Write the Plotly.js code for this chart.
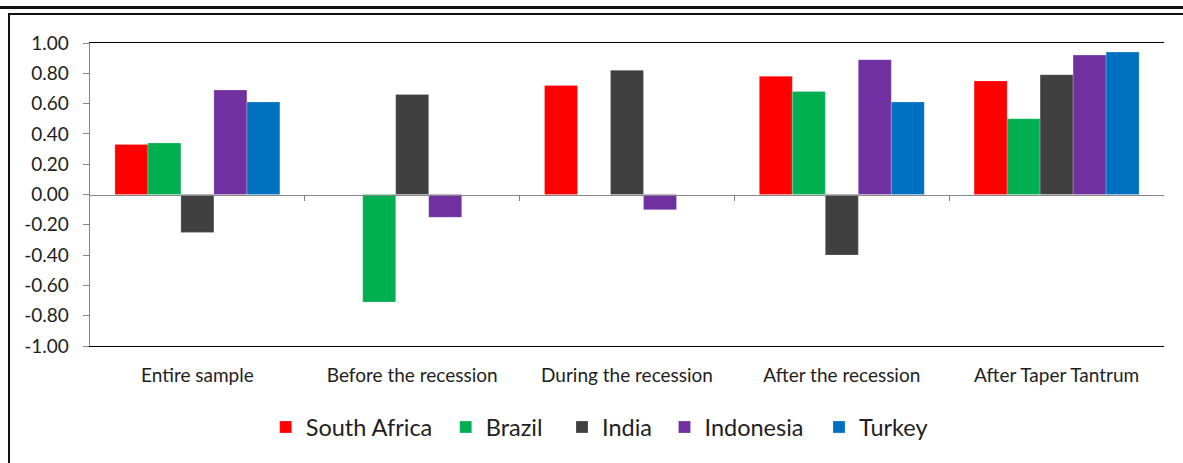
<!DOCTYPE html>
<html>
<head>
<meta charset="utf-8">
<script src="https://cdn.plot.ly/plotly-3.0.1.min.js"></script>
<style>
  html, body { margin: 0; padding: 0; background: #fff; }
  #wrap { position: relative; width: 1183px; height: 463px; overflow: hidden; }
  #chart { position: absolute; left: 0; top: 0; width: 1183px; height: 463px; }
  .rule { position: absolute; background: #111; pointer-events: none; }
</style>
</head>
<body>
<div id="wrap">
  <div id="chart"></div>
  <!-- page rules and frame around the figure -->
  <div class="rule" style="left:0; top:6px; width:1183px; height:3px;"></div>
  <div class="rule" style="left:8px; top:13px; width:1175px; height:2px;"></div>
  <div class="rule" style="left:8px; top:13px; width:2px; height:450px;"></div>
</div>
<script>
// Correlation by sub-period
const categories = ['Entire sample', 'Before the recession', 'During the recession', 'After the recession', 'After Taper Tantrum'];
const seriesNames = ['South Africa', 'Brazil', 'India', 'Indonesia', 'Turkey'];
const southAfrica = [0.33, null, 0.72, 0.78, 0.75];
const brazil      = [0.34, -0.71, null, 0.68, 0.50];
const india       = [-0.25, 0.66, 0.82, -0.40, 0.79];
const indonesia   = [0.69, -0.15, -0.10, 0.89, 0.92];
const turkey      = [0.61, null, null, 0.61, 0.94];
const yTickValues = [-1, -0.8, -0.6, -0.4, -0.2, 0, 0.2, 0.4, 0.6, 0.8, 1];
const yTickLabels = ['-1.00', '-0.80', '-0.60', '-0.40', '-0.20', '0.00', '0.20', '0.40', '0.60', '0.80', '1.00'];

const seriesValues = [southAfrica, brazil, india, indonesia, turkey];
const seriesColors = ['#FF0000', '#00B050', '#404040', '#7030A0', '#0070C0'];

const FONT = 'Lato, "Open Sans", sans-serif';
const GRAY = '#868686';
const TEXT = '#1e1e1e';

// each series gets its own legend box so entries can be spaced freely
const legendIds = ['legend', 'legend2', 'legend3', 'legend4', 'legend5'];
const legendTextX = [305.7, 485.7, 602, 704.5, 859];  // px positions of legend text starts

const traces = seriesValues.map((vals, i) => ({
  type: 'bar',
  name: seriesNames[i],
  x: categories,
  y: vals,
  legend: legendIds[i],
  marker: { color: seriesColors[i], line: { color: 'rgba(255,255,255,0.35)', width: 0.6 } },
  hoverinfo: 'x+y+name'
}));

// empty carrier so the zero-crossing category axis gets drawn
traces.push({
  type: 'scatter', mode: 'markers', x: [], y: [],
  xaxis: 'x2', yaxis: 'y', showlegend: false, hoverinfo: 'skip'
});

const plotLeft = 90, plotWidth = 1074;
const layout = {
  width: 1183,
  height: 463,
  margin: { l: 90, r: 19, t: 43, b: 117 },
  paper_bgcolor: 'rgba(0,0,0,0)',
  plot_bgcolor: '#fff',
  barmode: 'group',
  bargap: 0.232,
  bargroupgap: 0,
  font: { family: FONT, color: TEXT, size: 19 },
  xaxis: {
    type: 'category',
    range: [-0.5, categories.length - 0.5],
    showline: true, mirror: true, linecolor: '#000', linewidth: 1,
    ticks: '', showgrid: false, zeroline: false,
    tickfont: { family: FONT, size: 19, color: TEXT },
    ticklabelstandoff: 12,
    fixedrange: true
  },
  // horizontal axis line through zero with boundary tick marks
  xaxis2: {
    overlaying: 'x', anchor: 'free', position: 0.5,
    type: 'linear',
    range: [-0.5, categories.length - 0.5],
    tickvals: categories.slice(1).map((c, i) => i + 0.5),
    ticks: 'outside', ticklen: 5, tickwidth: 1, tickcolor: GRAY,
    showticklabels: false, showgrid: false, zeroline: false,
    showline: true, linecolor: GRAY, linewidth: 1.3,
    layer: 'above traces',
    fixedrange: true
  },
  yaxis: {
    range: [-1, 1],
    tickvals: yTickValues, ticktext: yTickLabels,
    ticks: 'outside', ticklen: 6, tickwidth: 1, tickcolor: GRAY,
    showline: true, linecolor: GRAY, linewidth: 1.3,
    showgrid: false, zeroline: false,
    tickfont: { family: FONT, size: 19, color: TEXT },
    ticklabelstandoff: 10,
    fixedrange: true
  },
  // right-hand border of the plot area
  yaxis2: {
    overlaying: 'y', side: 'right', anchor: 'x',
    range: [-1, 1],
    showline: true, linecolor: '#000', linewidth: 1,
    showticklabels: false, ticks: '', showgrid: false, zeroline: false,
    fixedrange: true
  },
  showlegend: true
};

legendIds.forEach((id, i) => {
  layout[id] = {
    orientation: 'h',
    x: (legendTextX[i] - 40 - plotLeft) / plotWidth,
    xanchor: 'left',
    y: -0.268,
    yanchor: 'middle',
    bgcolor: 'rgba(0,0,0,0)',
    borderwidth: 0,
    font: { family: FONT, size: 23.5, color: TEXT }
  };
});

Plotly.newPlot('chart', traces, layout, { displayModeBar: false, staticPlot: true });
</script>
</body>
</html>
